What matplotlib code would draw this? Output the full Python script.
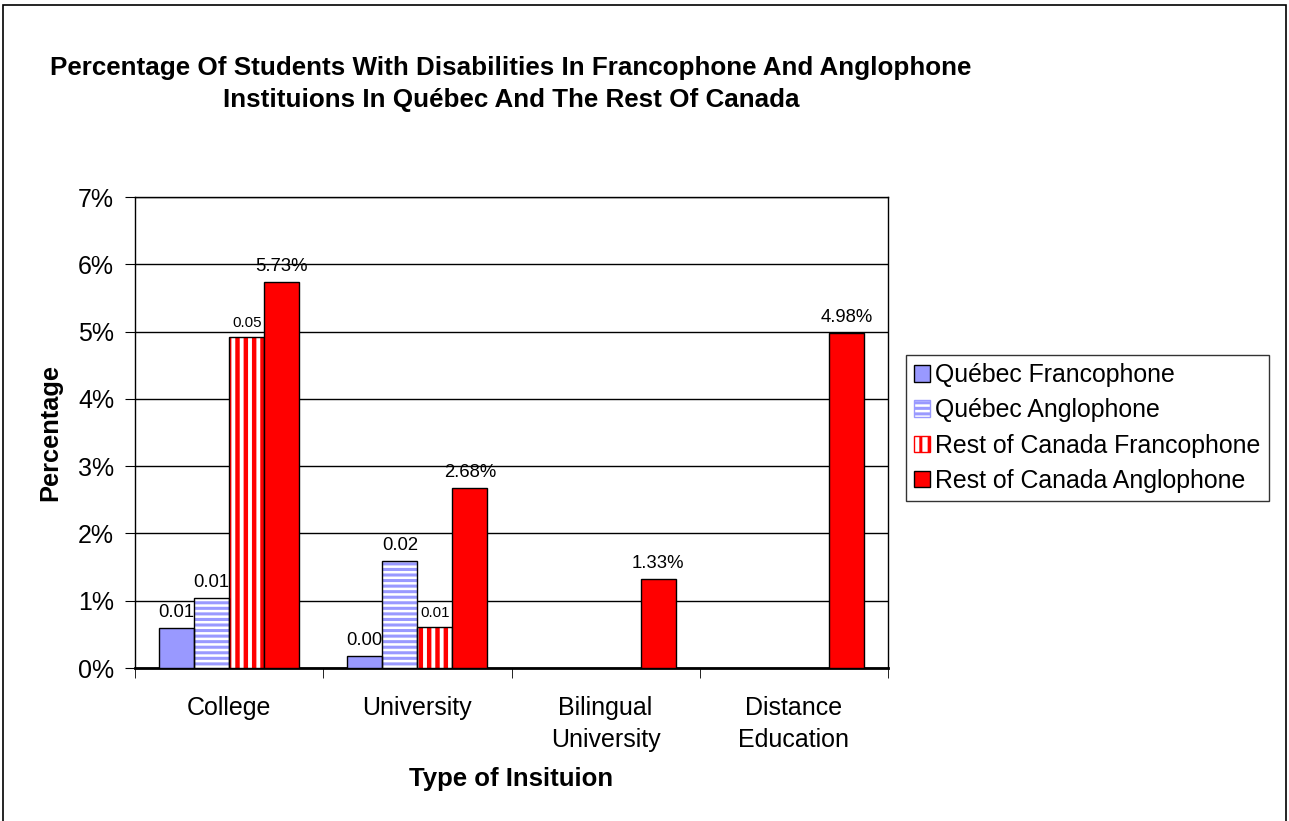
import matplotlib
matplotlib.use("Agg")
import matplotlib.pyplot as plt
import numpy as np
from matplotlib.patches import Patch, Rectangle
from matplotlib.ticker import FuncFormatter

plt.rcParams['font.family'] = ['Liberation Sans', 'DejaVu Sans']

categories = ["College", "University", "Bilingual\nUniversity", "Distance\nEducation"]
series_names = ["Québec Francophone", "Québec Anglophone",
                "Rest of Canada Francophone", "Rest of Canada Anglophone"]
quebec_franco = [0.59, 0.18, None, None]
quebec_anglo = [1.04, 1.59, None, None]
roc_franco = [4.92, 0.61, None, None]
roc_anglo = [5.74, 2.68, 1.33, 4.98]
label_qf = ["0.01", "0.00", None, None]
label_qa = ["0.01", "0.02", None, None]
label_rcf = ["0.05", "0.01", None, None]
label_rca = ["5.73%", "2.68%", "1.33%", "4.98%"]
yticks = [0, 1, 2, 3, 4, 5, 6, 7]

W, H = 1289, 821
fig = plt.figure(figsize=(W / 100, H / 100), dpi=100)
fig.patch.set_facecolor("white")

# outer frame
fig.patches.append(Rectangle((3 / W, -0.02), (1286 - 3) / W, 1 - 5 / H + 0.02,
                             transform=fig.transFigure, fill=False,
                             edgecolor="black", linewidth=1.2))

ax = fig.add_axes([135 / W, 1 - 668 / H, (888 - 135) / W, (668 - 197) / H])

x = np.arange(len(categories))
bw = 0.186
offsets = [-1.5 * bw, -0.5 * bw, 0.5 * bw, 1.5 * bw]
blue = "#9999FF"
red = "#FF0000"
plt.rcParams['hatch.linewidth'] = 2.2


def hatched(vals, off, color, hatch, hlw, labels, fs):
    for i, v in enumerate(vals):
        if v is None:
            continue
        with plt.rc_context({'hatch.linewidth': hlw}):
            b = ax.bar(x[i] + off, v, bw, color="white", edgecolor=color,
                       hatch=hatch, linewidth=0, zorder=3)
        for p in b:
            if hasattr(p, "set_hatch_linewidth"):
                p.set_hatch_linewidth(hlw)
        ax.bar(x[i] + off, v, bw, fill=False, edgecolor="black", linewidth=1.0, zorder=4)
        if labels[i]:
            ax.annotate(labels[i], (x[i] + off, v), xytext=(0, 5), textcoords="offset points",
                        ha="center", va="bottom", fontsize=fs)


def solid(vals, off, color, labels, fs):
    for i, v in enumerate(vals):
        if v is None:
            continue
        ax.bar(x[i] + off, v, bw, color=color, edgecolor="black", linewidth=1.0, zorder=4)
        if labels[i]:
            ax.annotate(labels[i], (x[i] + off, v), xytext=(0, 5), textcoords="offset points",
                        ha="center", va="bottom", fontsize=fs)


solid(quebec_franco, offsets[0], blue, label_qf, 13.3)
hatched(quebec_anglo, offsets[1], blue, "---", 2.2, label_qa, 13.3)
hatched(roc_franco, offsets[2], red, "||", 3.2, label_rcf, 10.8)
solid(roc_anglo, offsets[3], red, label_rca, 13.3)

ax.set_xlim(-0.5, len(categories) - 0.5)
ax.set_ylim(0, 7)
ax.set_yticks(yticks)
ax.yaxis.set_major_formatter(FuncFormatter(lambda v, p: f"{int(v)}%"))
ax.grid(axis="y", color="black", linewidth=1.0, zorder=1)
ax.set_axisbelow(True)
ax.tick_params(axis="y", labelsize=18, length=7, direction="out", pad=8)

ax.set_xticks(x)
ax.set_xticklabels(categories, fontsize=18, linespacing=1.45)
ax.set_xticks(np.arange(len(categories) + 1) - 0.5, minor=True)
ax.tick_params(axis="x", which="major", length=0, pad=20)
ax.tick_params(axis="x", which="minor", length=7, direction="out")

for s in ["left", "top", "right"]:
    ax.spines[s].set_linewidth(1.0)
ax.spines["bottom"].set_linewidth(2.0)

fig.text(511 / W, 1 - 84 / H,
         "Percentage Of Students With Disabilities In Francophone And Anglophone\n"
         "Instituions In Québec And The Rest Of Canada",
         ha="center", va="center", fontsize=18.7, fontweight="bold", linespacing=1.45)
fig.text(50 / W, 1 - 432 / H, "Percentage", rotation=90, ha="center", va="center",
         fontsize=18.3, fontweight="bold")
fig.text(511 / W, 1 - 779 / H, "Type of Insituion", ha="center", va="center",
         fontsize=18.5, fontweight="bold")

handles = [
    Patch(facecolor=blue, edgecolor="black", linewidth=1.0),
    Patch(facecolor="white", edgecolor=blue, hatch="---", linewidth=1.0),
    Patch(facecolor="white", edgecolor=red, hatch="||", linewidth=1.0),
    Patch(facecolor=red, edgecolor="black", linewidth=1.0),
]
leg = fig.legend(handles, series_names, loc="upper left",
                 bbox_to_anchor=(906 / W, 1 - 355 / H), fontsize=17.9,
                 frameon=True, fancybox=False, edgecolor="black",
                 handlelength=0.65, handleheight=0.65, handletextpad=0.2,
                 borderpad=0.33, labelspacing=0.45, borderaxespad=0)
leg.get_frame().set_linewidth(1.0)

fig.savefig("out.png", dpi=100)
